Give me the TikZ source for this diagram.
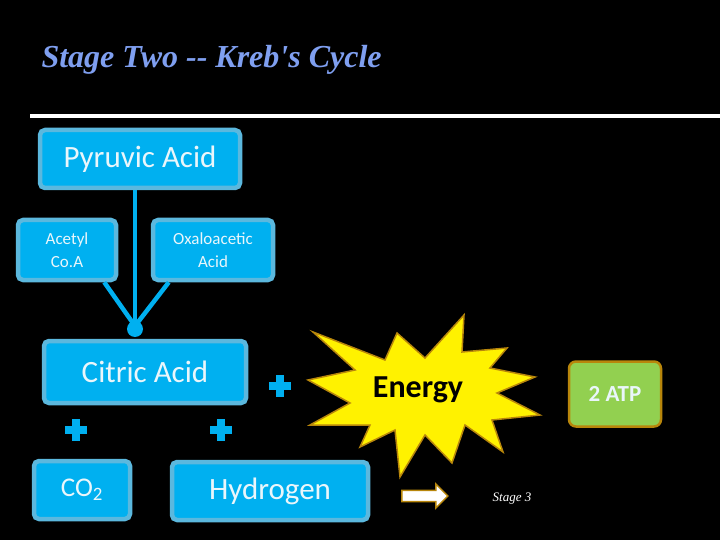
\documentclass[tikz,border=0pt]{standalone}
\usepackage{fontspec}
\setmainfont{Carlito}
\newfontfamily\titlefont{Liberation Serif}
\usetikzlibrary{shapes.arrows}
\definecolor{cyanb}{HTML}{00B0F0}
\definecolor{cyanl}{HTML}{5BB8DE}
\definecolor{goldb}{HTML}{B8860B}
\definecolor{greenb}{HTML}{92D050}
\definecolor{titleb}{HTML}{7F9FF0}
\definecolor{txtw}{HTML}{EAF6FB}
\tikzset{
 bx/.style={draw=cyanl,line width=4.5pt,fill=cyanb,rounded corners=5pt,text=txtw,align=center,inner sep=0pt},
 plusb/.style={fill=cyanb,draw=none},
 lnk/.style={draw=cyanb,line width=4.5pt}
}
\begin{document}
\begin{tikzpicture}[x=1pt,y=-1pt]
\fill[black] (0,0) rectangle (720,540);
\useasboundingbox (0,0) rectangle (720,540);
\node[anchor=west,text=titleb,font=\titlefont\bfseries\itshape\fontsize{32}{34}\selectfont] (title) at (38,60) {Stage Two -- Kreb's Cycle};
\draw[white,line width=3.5pt] (30,116) -- (720,116);
\node[bx,minimum width=200pt,minimum height=58pt,font=\fontsize{31}{33}\selectfont] (pyr) at (140,159) {Pyruvic Acid};
\node[bx,minimum width=98pt,minimum height=60pt,font=\fontsize{17}{23}\selectfont] (ace) at (67,250) {Acetyl\\Co.A};
\node[bx,minimum width=120pt,minimum height=60pt,font=\fontsize{17}{23}\selectfont] (oxa) at (213,250) {Oxaloacetic\\Acid};
\coordinate (j) at (135,326);
\draw[lnk] (pyr.south -| j) -- (j);
\draw[lnk] (ace.south east) ++(-14,0) -- (j);
\draw[lnk] (oxa.south west) ++(18,0) -- (j);
\fill[cyanb] (j) ++(0,3) circle (8);
\node[bx,minimum width=202pt,minimum height=62pt,font=\fontsize{31}{33}\selectfont] (cit) at (145,372) {Citric Acid};
\node[bx,minimum width=96pt,minimum height=58pt,font=\fontsize{27}{29}\selectfont] (co2) at (82,490) {CO\textsubscript{2}};
\node[bx,minimum width=196pt,minimum height=58pt,font=\fontsize{31}{33}\selectfont] (hyd) at (270,491) {Hydrogen};
\foreach \n/\p in {p1/{(280,386)},p2/{(76,430)},p3/{(221,430)}}{
  \path \p coordinate (\n);
  \fill[plusb] (\n) ++(-11,-4) rectangle ++(22,8);
  \fill[plusb] (\n) ++(-4,-11) rectangle ++(8,22);
}
\draw[goldb,fill=yellow,line width=1.5pt,line join=miter]
 (397,333) -- (425,358) -- (464,315) -- (462,352) -- (507,348) -- (490,368) -- (535,377) -- (497,393) -- (540,415) -- (492,420) -- (503,452) -- (465,425) -- (452,463) -- (425,435) -- (400,477) -- (395,430) -- (360,447) -- (370,425) -- (310,425) -- (350,403) -- (308,380) -- (355,370) -- (313,332) -- (385,360) -- cycle;
\node[font=\bfseries\fontsize{32}{34}\selectfont,text=black] (en) at (418,390) {Energy};
\node[draw=goldb,line width=2.5pt,fill=greenb,rounded corners=7pt,minimum width=92pt,minimum height=65pt,text=txtw,font=\bfseries\fontsize{23}{25}\selectfont] (atp) at (615,394) {2 ATP};
\node[single arrow,draw=goldb,line width=1.5pt,fill=white,minimum height=46pt,minimum width=24pt,single arrow head extend=3pt,inner sep=2pt] (arr) at (422,496) {};
\node[text=white,font=\titlefont\itshape\fontsize{13}{14}\selectfont] (st3) at (512,499) {Stage 3};
\end{tikzpicture}
\end{document}
